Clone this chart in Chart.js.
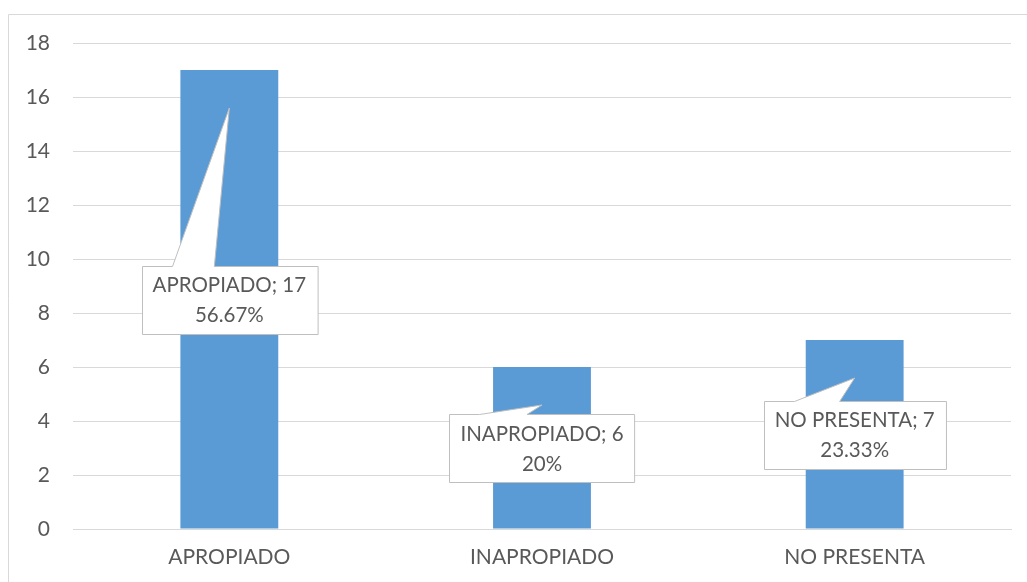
<!DOCTYPE html>
<html>
<head>
<meta charset="utf-8">
<script src="https://cdn.jsdelivr.net/npm/chart.js@4"></script>
<style>
  html, body { margin: 0; padding: 0; background: #fff; }
  #wrap { width: 1027px; height: 582px; }
</style>
</head>
<body>
<div id="wrap"><canvas id="chart"></canvas></div>
<script>
const categories = ['APROPIADO', 'INAPROPIADO', 'NO PRESENTA'];
const values = [17, 6, 7];
const yTicks = [0, 2, 4, 6, 8, 10, 12, 14, 16, 18];

const FONT = 'Lato, "Noto Sans", sans-serif';
const TEXT = '#595959';
const GRID = '#d9d9d9';

const total = values.reduce((a, b) => a + b, 0);
const pct = v => parseFloat((v / total * 100).toFixed(2)) + '%';

// outer frame of the chart object
const framePlugin = {
    id: 'frame',
    beforeDraw(chart) {
        const ctx = chart.ctx;
        ctx.save();
        ctx.strokeStyle = GRID;
        ctx.lineWidth = 1;
        ctx.beginPath();
        ctx.moveTo(8.5, chart.height);
        ctx.lineTo(8.5, 14.5);
        ctx.lineTo(chart.width, 14.5);
        ctx.stroke();
        ctx.restore();
    }
};

// callout boxes with a pointer into each bar
const calloutPlugin = {
    id: 'callouts',
    afterDatasetsDraw(chart) {
        const ctx = chart.ctx;
        const y = chart.scales.y;
        const meta = chart.getDatasetMeta(0);
        ctx.save();
        ctx.font = '20.5px ' + FONT;
        meta.data.forEach((bar, i) => {
            const v = values[i];
            const l1 = categories[i] + '; ' + v;
            const l2 = pct(v);
            const w = Math.max(ctx.measureText(l1).width, ctx.measureText(l2).width) + 22;
            const h = 68;
            const cx = bar.x;
            const cy = y.getPixelForValue(v / 2);
            const left = Math.round(cx - w / 2) + 0.5;
            const top = Math.round(cy - h / 2) + 0.5;
            const tipX = cx;
            const tipY = bar.y + 38;
            const bL = left + 30, bR = tipX - 15;

            ctx.beginPath();
            ctx.moveTo(left, top);
            ctx.lineTo(bL, top);
            ctx.lineTo(tipX, tipY);
            ctx.lineTo(bR, top);
            ctx.lineTo(left + w, top);
            ctx.lineTo(left + w, top + h);
            ctx.lineTo(left, top + h);
            ctx.closePath();
            ctx.fillStyle = '#fff';
            ctx.fill();
            ctx.strokeStyle = '#bfbfbf';
            ctx.lineWidth = 1;
            ctx.stroke();

            ctx.fillStyle = TEXT;
            ctx.textAlign = 'center';
            ctx.textBaseline = 'middle';
            ctx.fillText(l1, cx, cy - 14);
            ctx.fillText(l2, cx, cy + 16);
        });
        ctx.restore();
    }
};

new Chart(document.getElementById('chart'), {
    type: 'bar',
    data: {
        labels: categories,
        datasets: [{
            data: values,
            backgroundColor: '#5b9bd5',
            borderWidth: 0,
            categoryPercentage: 1,
            barPercentage: 0.313
        }]
    },
    plugins: [framePlugin, calloutPlugin],
    options: {
        responsive: true,
        maintainAspectRatio: false,
        animation: false,
        layout: { padding: { top: 43, right: 16, left: 9, bottom: 0 } },
        plugins: {
            legend: { display: false },
            tooltip: { enabled: false }
        },
        scales: {
            x: {
                grid: { display: false, drawTicks: false },
                border: { display: true, color: GRID, width: 1 },
                ticks: { color: TEXT, font: { family: FONT, size: 21 }, padding: 16 },
                afterFit(s) { s.height = 53; }
            },
            y: {
                min: 0,
                max: 18,
                afterBuildTicks(s) { s.ticks = yTicks.map(v => ({ value: v })); },
                grid: { color: GRID, drawTicks: false },
                border: { display: false },
                ticks: { color: TEXT, font: { family: FONT, size: 21 }, padding: 23 },
                afterFit(s) { s.width = 64; }
            }
        }
    }
});
</script>
</body>
</html>
